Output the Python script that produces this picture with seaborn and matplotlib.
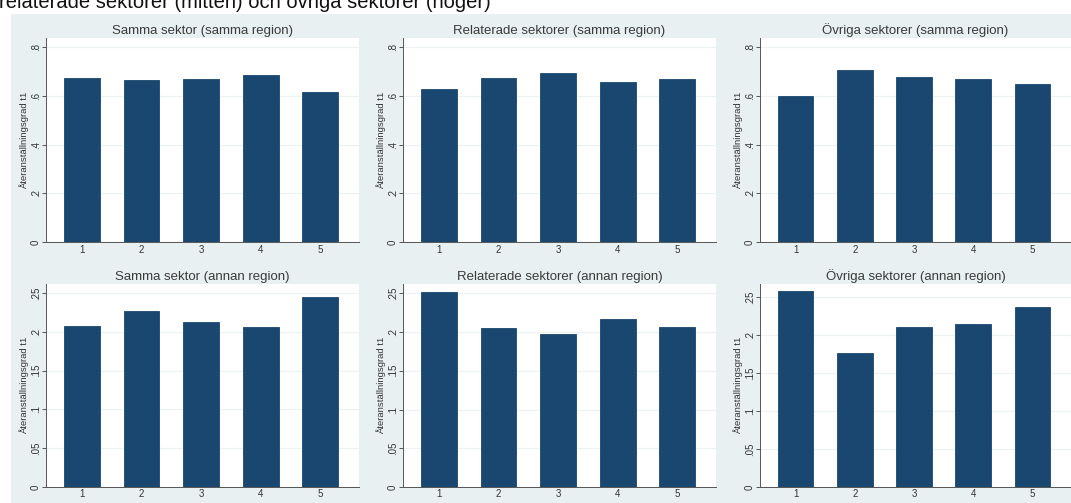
import matplotlib
matplotlib.use("Agg")
import matplotlib.pyplot as plt
from matplotlib.patches import Rectangle
import seaborn as sns

# Data: re-employment rate (t1) by group 1-5
categories = ["1", "2", "3", "4", "5"]

samma_sektor_samma = [0.673, 0.663, 0.670, 0.685, 0.614]
relaterade_samma = [0.627, 0.674, 0.693, 0.656, 0.670]
ovriga_samma = [0.600, 0.707, 0.676, 0.670, 0.650]

samma_sektor_annan = [0.208, 0.227, 0.213, 0.206, 0.245]
relaterade_annan = [0.252, 0.205, 0.198, 0.217, 0.206]
ovriga_annan = [0.258, 0.176, 0.211, 0.215, 0.237]

titles = [
    "Samma sektor (samma region)", "Relaterade sektorer (samma region)", "Övriga sektorer (samma region)",
    "Samma sektor (annan region)", "Relaterade sektorer (annan region)", "Övriga sektorer (annan region)",
]
series = [samma_sektor_samma, relaterade_samma, ovriga_samma,
          samma_sektor_annan, relaterade_annan, ovriga_annan]

top_ticks = [0, 0.2, 0.4, 0.6, 0.8]
top_ticklabels = ["0", ".2", ".4", ".6", ".8"]
bottom_ticks = [0, 0.05, 0.1, 0.15, 0.2, 0.25]
bottom_ticklabels = ["0", ".05", ".1", ".15", ".2", ".25"]

ylabel = "Återanställningsgrad t1"
heading = "relaterade sektorer (mitten) och övriga sektorer (höger)"

NAVY = "#1A476F"
REGION_BG = "#E9F0F2"
GRID = "#EDF2F4"
AXIS = "#555555"
TEXT = "#333333"

sns.set_theme(style="white")
plt.rcParams["font.family"] = ["Liberation Sans", "DejaVu Sans"]

W, H = 1071, 503
fig = plt.figure(figsize=(W / 100, H / 100), dpi=100)
fig.patch.set_facecolor("white")

# graph region background
fig.patches.append(Rectangle((11 / W, 0), 1 - 11 / W, (H - 14) / H,
                             transform=fig.transFigure, facecolor=REGION_BG,
                             edgecolor="none", zorder=-10))

# heading running on from above the canvas
fig.text(-1 / W, 1 - 8 / H, heading, fontsize=14.5, color="#111111",
         ha="left", va="baseline")

lefts = [46, 403, 760]
widths = [313, 313, 311]
row_geom = [(38, 242), (284, 487)]
ylims = [(0, 0.837), (0, 0.837), (0, 0.837), (0, 0.2615), (0, 0.262), (0, 0.267)]

for i, (vals, title) in enumerate(zip(series, titles)):
    r, c = divmod(i, 3)
    top, bot = row_geom[r]
    ax = fig.add_axes([lefts[c] / W, (H - bot) / H, widths[c] / W, (bot - top) / H])
    ax.set_facecolor("white")
    ticks = top_ticks if r == 0 else bottom_ticks
    tlabels = top_ticklabels if r == 0 else bottom_ticklabels
    for t in ticks:
        ax.axhline(t, color=GRID, lw=0.9, zorder=0)
    sns.barplot(x=categories, y=vals, ax=ax, color=NAVY, saturation=1,
                width=0.6, edgecolor=NAVY, linewidth=0.6, zorder=2)
    ax.set_xlim(-0.6, 4.65)
    ax.set_ylim(*ylims[i])
    ax.set_yticks(ticks)
    ax.set_yticklabels(tlabels, rotation=90, va="center", fontsize=7, color=TEXT)
    ax.tick_params(axis="y", length=3, width=0.7, color=AXIS, pad=0.8, left=True)
    ax.tick_params(axis="x", length=0, pad=2.5 if r == 0 else 1.5,
                   labelsize=7.0, labelcolor=TEXT)
    ax.set_xlabel("")
    ax.set_ylabel(ylabel, fontsize=6.8, color=TEXT, labelpad=1)
    ax.set_title(title, fontsize=9.5, color="#3a3a3a", pad=3)
    for side in ["top", "right"]:
        ax.spines[side].set_visible(False)
    for side in ["left", "bottom"]:
        ax.spines[side].set_color(AXIS)
        ax.spines[side].set_linewidth(0.7)
    ax.grid(False)

fig.savefig("out.png", dpi=100)
